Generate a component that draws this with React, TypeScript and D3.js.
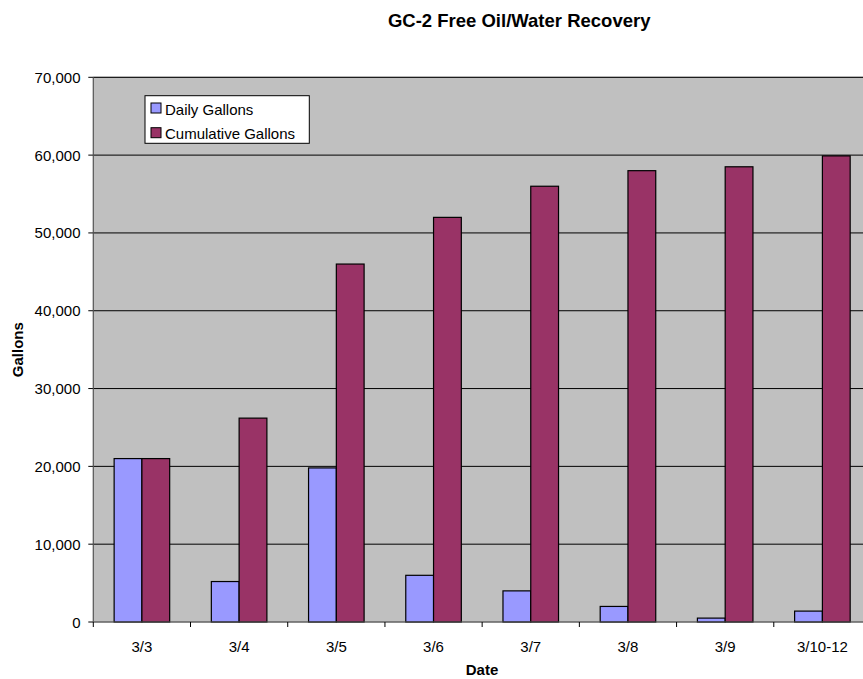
import React from "react";
import * as d3 from "d3";

const categories = ["3/3", "3/4", "3/5", "3/6", "3/7", "3/8", "3/9", "3/10-12"];
const dailyGallons = [21000, 5200, 19800, 6000, 4000, 2000, 500, 1400];
const cumulativeGallons = [21000, 26200, 46000, 52000, 56000, 58000, 58500, 59900];
const seriesNames = ["Daily Gallons", "Cumulative Gallons"];
const yTicks = [0, 10000, 20000, 30000, 40000, 50000, 60000, 70000];

const W = 863;
const H = 679;
const left = 93.3;
const right = 871;
const top = 77.3;
const bottom = 622;
const colors = ["#9999FF", "#993366"];
const font = "'Liberation Sans', Arial, sans-serif";

export default function App() {
  const x = d3.scaleBand<string>().domain(categories).range([left, right]).padding(0);
  const xs = d3
    .scaleBand<string>()
    .domain(seriesNames)
    .range([0, x.bandwidth()])
    .paddingInner(0)
    .paddingOuter(0.75);
  const y = d3.scaleLinear().domain([0, 70000]).range([bottom, top]);
  const fmt = d3.format(",");
  const series = [dailyGallons, cumulativeGallons];

  return (
    <svg
      width={W}
      height={H}
      style={{ position: "absolute", left: 0, top: 0, background: "#fff" }}
      fontFamily={font}
    >
      <rect x={left} y={top} width={right - left} height={bottom - top} fill="#C0C0C0" stroke="#808080" />
      {yTicks.map((t) => (
        <g key={t}>
          {t > 0 && <line x1={left} x2={right} y1={y(t)} y2={y(t)} stroke="#000" strokeWidth={1} />}
          <line x1={left - 5} x2={left} y1={y(t)} y2={y(t)} stroke="#000" />
          <text x={80.5} y={y(t) + 5.5} textAnchor="end" fontSize={15} fill="#000">
            {fmt(t)}
          </text>
        </g>
      ))}
      {series.map((vals, si) =>
        vals.map((v, i) => (
          <rect
            key={si + "-" + i}
            x={(x(categories[i]) as number) + (xs(seriesNames[si]) as number)}
            y={y(v)}
            width={xs.bandwidth()}
            height={bottom - y(v)}
            fill={colors[si]}
            stroke="#000"
            strokeWidth={1.2}
          />
        ))
      )}
      <line x1={left} x2={left} y1={top} y2={bottom} stroke="#555" />
      <line x1={left} x2={right} y1={bottom} y2={bottom} stroke="#555" />
      {categories.map((c) => (
        <g key={c}>
          <line x1={x(c) as number} x2={x(c) as number} y1={bottom} y2={bottom + 5} stroke="#000" />
          <text
            x={(x(c) as number) + x.bandwidth() / 2}
            y={651.5}
            textAnchor="middle"
            fontSize={15}
            fill="#000"
          >
            {c}
          </text>
        </g>
      ))}
      <text x={519.2} y={26.5} textAnchor="middle" fontSize={18.5} fontWeight="bold" fill="#000">
        GC-2 Free Oil/Water Recovery
      </text>
      <text x={482} y={675} textAnchor="middle" fontSize={15} fontWeight="bold" fill="#000">
        Date
      </text>
      <text
        transform={`translate(23,${(top + bottom) / 2}) rotate(-90)`}
        textAnchor="middle"
        fontSize={15}
        fontWeight="bold"
        fill="#000"
      >
        Gallons
      </text>
      <g>
        <rect x={145} y={95.7} width={164.3} height={47.6} fill="#fff" stroke="#000" />
        {seriesNames.map((n, i) => (
          <g key={n}>
            <rect x={151} y={103 + i * 24.7} width={10} height={10} fill={colors[i]} stroke="#000" />
            <text x={165} y={114.5 + i * 24.7} fontSize={15} fill="#000">
              {n}
            </text>
          </g>
        ))}
      </g>
    </svg>
  );
}
